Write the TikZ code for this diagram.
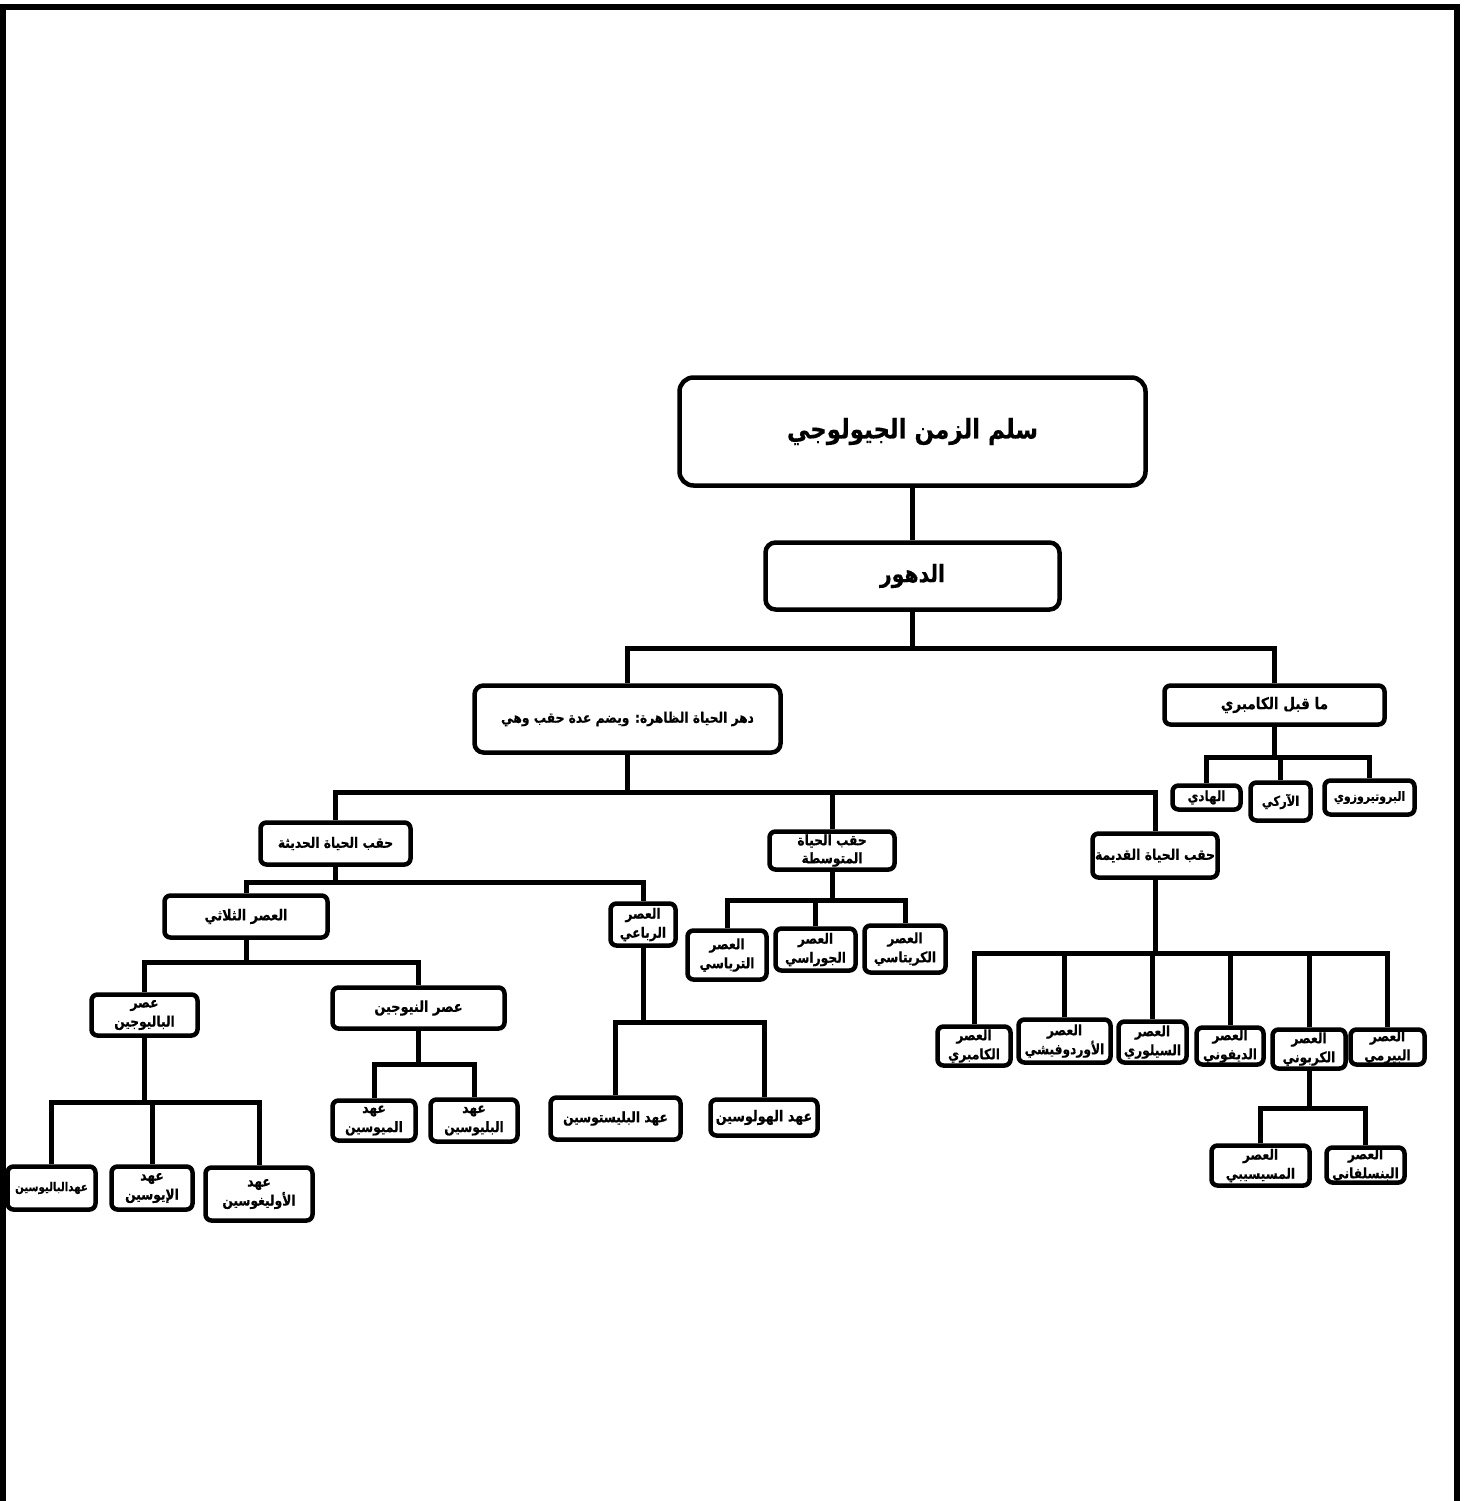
\documentclass[tikz,border=0pt]{standalone}
\usepackage{fontspec}
\newfontfamily\arabicfont[Script=Arabic, FakeStretch=0.85, BoldFeatures={FakeBold=0.4}]{DejaVu Sans}
\TeXXeTstate=1
\newcommand{\AR}[1]{\beginR #1\endR}
\tikzset{
  box/.style={draw, line width=4.5pt, rounded corners=6pt, fill=white, inner sep=0pt, align=center},
  txt/.style 2 args={font=\arabicfont\bfseries\fontsize{#1}{#2}\selectfont},
  sm/.style={txt={14.4}{19}},
  conn/.style={line width=5pt},
  frame/.style={line width=6pt},
}
\begin{document}
\begin{tikzpicture}[x=1pt,y=-1pt]
\useasboundingbox (0,0) rectangle (1472,1501);
\fill[white] (0,0) rectangle (1472,1501);
\draw[frame] (3,1501) -- (3,7) -- (1457,7) -- (1457,1501);

% top levels
\node[box, rounded corners=14pt, txt={27}{30}, minimum width=466, minimum height=108] (title) at (912.5,431.5) {\AR{سلم الزمن الجيولوجي}};
\node[box, rounded corners=10pt, txt={24}{27}, minimum width=294, minimum height=67] (duhur) at (912.5,576) {\AR{الدهور}};
\node[box, rounded corners=9pt, txt={14.4}{18}, minimum width=306, minimum height=67] (dahr) at (627.5,719) {\AR{دهر الحياة الظاهرة: ويضم عدة حقب وهي}};
\node[box, txt={16}{18}, minimum width=220, minimum height=39] (maqabl) at (1274.5,705) {\AR{ما قبل الكامبري}};

% precambrian children
\node[box, txt={14}{16}, minimum width=68, minimum height=24] (hadi) at (1206.5,797.5) {\AR{الهادي}};
\node[box, txt={13.5}{16}, minimum width=60, minimum height=38] (arki) at (1280.5,801.5) {\AR{الآركي}};
\node[box, txt={12.9}{16}, minimum width=90, minimum height=34] (prot) at (1369.5,797.5) {\AR{البروتيروزوي}};

% eras
\node[box, txt={14.4}{18}, minimum width=150, minimum height=42] (haditha) at (335.5,843.5) {\AR{حقب الحياة الحديثة}};
\node[box, txt={14.4}{18}, minimum width=125, minimum height=38] (wusta) at (832,850.5) {\AR{حقب الحياة}\\\AR{المتوسطة}};
\node[box, txt={14.6}{18}, minimum width=125, minimum height=44] (qadima) at (1155,855.5) {\AR{حقب الحياة القديمة}};

% cenozoic
\node[box, txt={15}{18}, minimum width=163, minimum height=42] (thalathi) at (246,916.5) {\AR{العصر الثلاثي}};
\node[box, sm, minimum width=65, minimum height=42] (rubai) at (643,924.5) {\AR{العصر}\\\AR{الرباعي}};

% mesozoic
\node[box, sm, minimum width=79, minimum height=49] (triassic) at (727,955) {\AR{العصر}\\\AR{الترياسي}};
\node[box, sm, minimum width=80, minimum height=42] (jurassic) at (815.5,949.5) {\AR{العصر}\\\AR{الجوراسي}};
\node[box, sm, minimum width=81, minimum height=47] (cretaceous) at (905,949) {\AR{العصر}\\\AR{الكريتاسي}};

% tertiary
\node[box, sm, minimum width=106, minimum height=41] (paleogene) at (144.5,1015) {\AR{عصر}\\\AR{الباليوجين}};
\node[box, txt={15.2}{18}, minimum width=172, minimum height=41] (neogene) at (418.5,1008) {\AR{عصر النيوجين}};
\node[box, txt={12}{16}, minimum width=88, minimum height=43] (paleocene) at (51.5,1188) {\AR{عهدالباليوسين}};
\node[box, sm, minimum width=81, minimum height=43] (eocene) at (152,1188) {\AR{عهد}\\\AR{الإيوسين}};
\node[box, sm, minimum width=107, minimum height=53] (oligocene) at (259,1194) {\AR{عهد}\\\AR{الأوليغوسين}};
\node[box, sm, minimum width=83, minimum height=40] (miocene) at (374,1120.5) {\AR{عهد}\\\AR{الميوسين}};
\node[box, sm, minimum width=87, minimum height=42] (pliocene) at (474,1120.5) {\AR{عهد}\\\AR{البليوسين}};

% quaternary
\node[box, txt={14.4}{18}, minimum width=130, minimum height=42] (pleistocene) at (615.5,1118.5) {\AR{عهد البليستوسين}};
\node[box, txt={15}{18}, minimum width=107, minimum height=36] (holocene) at (764,1117.5) {\AR{عهد الهولوسين}};

% paleozoic
\node[box, sm, minimum width=73, minimum height=39] (cambrian) at (974,1046) {\AR{العصر}\\\AR{الكامبري}};
\node[box, sm, minimum width=92, minimum height=43] (ordovician) at (1064.5,1041) {\AR{العصر}\\\AR{الأوردوفيشي}};
\node[box, sm, minimum width=68, minimum height=41] (silurian) at (1152.5,1042) {\AR{العصر}\\\AR{السيلوري}};
\node[box, sm, minimum width=67, minimum height=37] (devonian) at (1230,1046) {\AR{العصر}\\\AR{الديفوني}};
\node[box, sm, minimum width=73, minimum height=39] (carbon) at (1309,1049) {\AR{العصر}\\\AR{الكربوني}};
\node[box, sm, minimum width=74, minimum height=35] (permian) at (1387.5,1047) {\AR{العصر}\\\AR{البيرمي}};
\node[box, sm, minimum width=98, minimum height=40] (mississippian) at (1260.5,1165.5) {\AR{العصر}\\\AR{المسيسيبي}};
\node[box, sm, minimum width=78, minimum height=35] (pennsylvanian) at (1365.5,1165) {\AR{العصر}\\\AR{البنسلفاني}};

% junctions
\coordinate (jd) at (912.5,648);
\coordinate (jm) at (1274.5,757);
\coordinate (jdahr) at (627.5,792);
\coordinate (jh) at (335.5,882);
\coordinate (jw) at (832,900);
\coordinate (jq) at (1155,953);
\coordinate (jt) at (246,962);
\coordinate (jr) at (643,1022);
\coordinate (jpg) at (144.5,1102);
\coordinate (jng) at (418.5,1064);
\coordinate (jc) at (1309,1108);

% connectors
\draw[conn] (title.south) -- (duhur.north);
\draw[conn] (duhur.south) -- (jd);
\draw[conn] (dahr.north) |- (jd) -| (maqabl.north);

\draw[conn] (maqabl.south) -- (jm);
\draw[conn] (hadi.north) |- (jm) -| (prot.north);
\draw[conn] (arki.north) -- (arki.north |- jm);

\draw[conn] (dahr.south) -- (jdahr);
\draw[conn] (haditha.north) |- (jdahr) -| (qadima.north);
\draw[conn] (wusta.north) -- (wusta.north |- jdahr);

\draw[conn] (haditha.south) -- (jh);
\draw[conn] (thalathi.north) |- (jh) -| (rubai.north);

\draw[conn] (wusta.south) -- (jw);
\draw[conn] (triassic.north) |- (jw) -| (cretaceous.north);
\draw[conn] (jurassic.north) -- (jurassic.north |- jw);

\draw[conn] (qadima.south) -- (jq);
\draw[conn] (cambrian.north) |- (jq) -| (permian.north);
\draw[conn] (ordovician.north) -- (ordovician.north |- jq);
\draw[conn] (silurian.north) -- (silurian.north |- jq);
\draw[conn] (devonian.north) -- (devonian.north |- jq);
\draw[conn] (carbon.north) -- (carbon.north |- jq);

\draw[conn] (thalathi.south) -- (jt);
\draw[conn] (paleogene.north) |- (jt) -| (neogene.north);

\draw[conn] (rubai.south) -- (jr);
\draw[conn] (pleistocene.north) |- (jr) -| (holocene.north);

\draw[conn] (paleogene.south) -- (jpg);
\draw[conn] (paleocene.north) |- (jpg) -| (oligocene.north);
\draw[conn] (eocene.north) -- (eocene.north |- jpg);

\draw[conn] (neogene.south) -- (jng);
\draw[conn] (miocene.north) |- (jng) -| (pliocene.north);

\draw[conn] (carbon.south) -- (jc);
\draw[conn] (mississippian.north) |- (jc) -| (pennsylvanian.north);
\end{tikzpicture}
\end{document}
